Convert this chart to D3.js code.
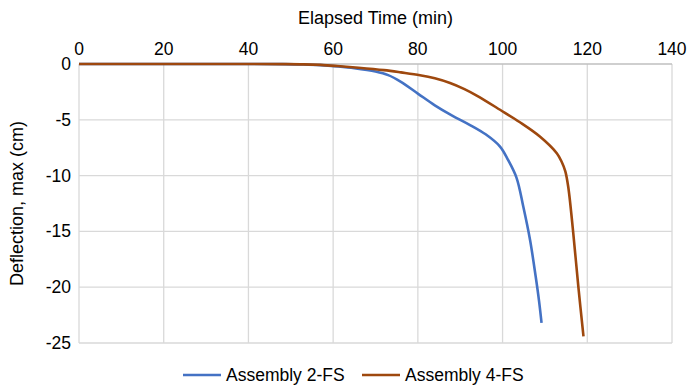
<!DOCTYPE html>
<html>
<head>
<meta charset="utf-8">
<script src="https://cdn.jsdelivr.net/npm/d3@7"></script>
<style>
  body { margin: 0; background: #fff; }
  text { font-family: "Liberation Sans", Arial, sans-serif; fill: #000; }
</style>
</head>
<body>
<svg id="chart" width="687" height="386"></svg>
<script>
// elapsed time (min) and max deflection (cm)
const time2FS = [0, 20, 40, 48, 53, 57, 61, 65, 70, 73, 76, 80, 84, 88, 92, 96, 99.4, 101.3, 103.3, 104.9, 106.5, 107.8, 108.6, 109.2];
const defl2FS = [0, 0, 0, -0.01, -0.04, -0.1, -0.22, -0.38, -0.68, -1.0, -1.6, -2.65, -3.7, -4.6, -5.4, -6.3, -7.4, -8.6, -10.2, -12.8, -15.8, -19.0, -21.2, -23.2];
const time4FS = [0, 20, 40, 48, 53, 57, 61, 66, 72, 76, 80.5, 84, 87.6, 91, 94, 99.4, 104, 108.8, 112.8, 114, 114.8, 115.5, 116.7, 117.9, 119.1];
const defl4FS = [0, 0, 0, -0.01, -0.03, -0.08, -0.18, -0.33, -0.55, -0.75, -1.0, -1.28, -1.7, -2.25, -2.85, -4.1, -5.2, -6.5, -8.0, -8.8, -9.6, -11.0, -15.2, -20.0, -24.4];
const xTicks = [0, 20, 40, 60, 80, 100, 120, 140];
const yTicks = [0, -5, -10, -15, -20, -25];
const seriesNames = ["Assembly 2-FS", "Assembly 4-FS"];
const colors = ["#4472C4", "#9E480E"];

const svg = d3.select("#chart");
const m = { left: 79, right: 672, top: 64, bottom: 343 };

const x = d3.scaleLinear().domain([0, 140]).range([m.left, m.right]);
const y = d3.scaleLinear().domain([-25, 0]).range([m.bottom, m.top]);

// gridlines
svg.append("g")
  .selectAll("line")
  .data(xTicks)
  .join("line")
  .attr("x1", d => x(d)).attr("x2", d => x(d))
  .attr("y1", m.top).attr("y2", m.bottom)
  .attr("stroke", "#d9d9d9").attr("stroke-width", 1.3);

svg.append("g")
  .selectAll("line")
  .data(yTicks)
  .join("line")
  .attr("x1", m.left).attr("x2", m.right)
  .attr("y1", d => y(d)).attr("y2", d => y(d))
  .attr("stroke", d => d === 0 ? "#bfbfbf" : "#d9d9d9").attr("stroke-width", 1.3);

// tick labels
svg.append("g")
  .selectAll("text")
  .data(xTicks)
  .join("text")
  .attr("x", d => x(d)).attr("y", 55)
  .attr("text-anchor", "middle")
  .attr("font-size", 17.5)
  .text(d => d);

svg.append("g")
  .selectAll("text")
  .data(yTicks)
  .join("text")
  .attr("x", 71).attr("y", d => y(d) + 6)
  .attr("text-anchor", "end")
  .attr("font-size", 17.5)
  .text(d => d);

// axis titles
svg.append("text")
  .attr("x", (m.left + m.right) / 2).attr("y", 24)
  .attr("text-anchor", "middle").attr("font-size", 18)
  .text("Elapsed Time (min)");

svg.append("text")
  .attr("transform", `translate(23,${(m.top + m.bottom) / 2}) rotate(-90)`)
  .attr("text-anchor", "middle").attr("font-size", 18)
  .text("Deflection, max (cm)");

// lines
const line = d3.line()
  .x(d => x(d[0]))
  .y(d => y(d[1]))
  .curve(d3.curveCatmullRom.alpha(0.5));

const series = [
  d3.zip(time2FS, defl2FS),
  d3.zip(time4FS, defl4FS)
];

svg.append("g")
  .selectAll("path")
  .data(series)
  .join("path")
  .attr("d", line)
  .attr("fill", "none")
  .attr("stroke", (d, i) => colors[i])
  .attr("stroke-width", 2.6)
  .attr("stroke-linejoin", "round");

// legend
const legendX = [183, 362];
const lg = svg.append("g")
  .selectAll("g")
  .data(seriesNames)
  .join("g")
  .attr("transform", (d, i) => `translate(${legendX[i]},375)`);

lg.append("line")
  .attr("x1", 0).attr("x2", 38)
  .attr("stroke", (d, i) => colors[i])
  .attr("stroke-width", 2.6);

lg.append("text")
  .attr("x", 43).attr("y", 6)
  .attr("font-size", 17.5)
  .text(d => d);
</script>
</body>
</html>
